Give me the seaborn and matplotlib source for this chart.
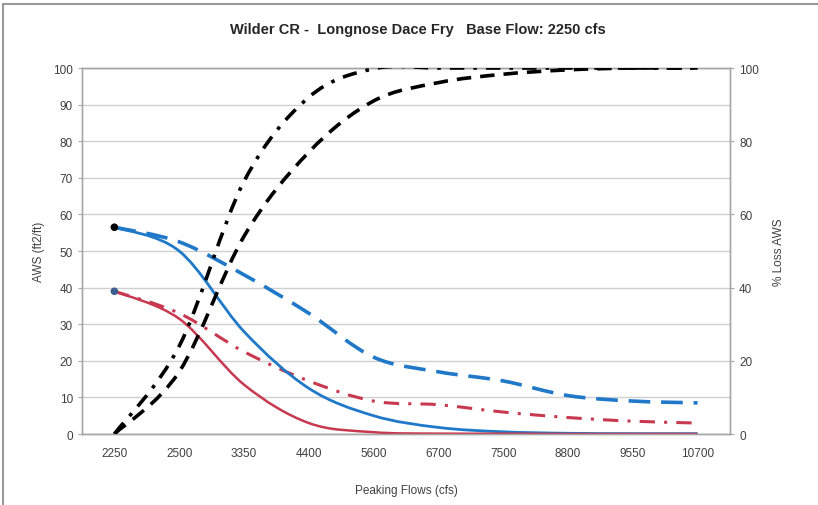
import numpy as np
import pandas as pd
import matplotlib
matplotlib.use("Agg")
import matplotlib.pyplot as plt
from matplotlib.path import Path
from matplotlib.patches import PathPatch, Rectangle
import seaborn as sns

# valeurs
flows = ["2250", "2500", "3350", "4400", "5600", "6700", "7500", "8800", "9550", "10700"]
aws_blue_solid = [56.5, 50.0, 28.0, 12.5, 5.0, 1.8, 0.6, 0.2, 0.1, 0.1]
aws_blue_dash = [56.5, 52.5, 43.5, 33.0, 21.0, 17.0, 14.5, 10.5, 9.0, 8.5]
aws_red_solid = [39.0, 31.5, 13.5, 3.0, 0.5, 0.1, 0.1, 0.0, 0.0, 0.0]
aws_red_dashdot = [39.0, 33.0, 22.5, 14.5, 9.0, 8.0, 6.0, 4.5, 3.5, 3.0]
loss_dashdot = [0.0, 24.0, 69.0, 92.0, 99.8, 100.0, 100.0, 100.0, 100.0, 100.0]
loss_dash = [0.0, 17.0, 54.0, 77.0, 91.0, 96.0, 98.3, 99.5, 100.0, 100.0]

BLUE = "#1f78c8"
RED = "#c8394f"


def smooth_path(ys):
    # courbe lissee facon Excel (Bezier passant par les points)
    x = np.arange(len(ys), dtype=float)
    y = np.asarray(ys, dtype=float)
    n = len(y)
    verts = [(x[0], y[0])]
    codes = [Path.MOVETO]
    for i in range(n - 1):
        i0 = max(i - 1, 0)
        i3 = min(i + 2, n - 1)
        c1 = (x[i] + (x[i + 1] - x[i0]) / 6, y[i] + (y[i + 1] - y[i0]) / 6)
        c2 = (x[i + 1] - (x[i3] - x[i]) / 6, y[i + 1] - (y[i3] - y[i]) / 6)
        verts += [c1, c2, (x[i + 1], y[i + 1])]
        codes += [Path.CURVE4] * 3
    return Path(verts, codes)


def add_curve(ax, ys, color, lw, ls):
    patch = PathPatch(smooth_path(ys), fill=False, edgecolor=color, linewidth=lw,
                      linestyle=ls, capstyle="butt", joinstyle="round", zorder=3)
    ax.add_patch(patch)


sns.set_style("whitegrid")
plt.rcParams["font.family"] = ["Liberation Sans Narrow", "Liberation Sans", "DejaVu Sans"]

fig = plt.figure(figsize=(8.18, 5.06), dpi=100)
fig.patches.append(Rectangle((0.004, -0.02), 1.02, 1.01, transform=fig.transFigure,
                             fill=False, edgecolor="#9a9a9a", linewidth=1.5))
ax = fig.add_axes([0.1002, 0.1403, 0.7922, 0.7233])
ax2 = ax.twinx()

add_curve(ax, aws_blue_dash, BLUE, 2.6, (0, (6, 3)))
add_curve(ax, aws_red_dashdot, RED, 2.2, (0, (5, 3, 1, 3)))
add_curve(ax, aws_blue_solid, BLUE, 2.0, "-")
add_curve(ax, aws_red_solid, RED, 1.8, "-")
add_curve(ax2, loss_dashdot, "black", 2.6, (0, (4, 2.5, 1, 2.5)))
add_curve(ax2, loss_dash, "black", 2.6, (0, (4, 2.5)))

start = pd.DataFrame({"x": [0, 0], "y": [aws_blue_solid[0], aws_red_solid[0]]})
sns.scatterplot(data=start, x="x", y="y", ax=ax, color=["black", "#3b5f8f"],
                s=30, edgecolor="none", zorder=5, legend=False)

ax.set_xlim(-0.5, len(flows) - 0.5)
ax.set_ylim(0, 100)
ax2.set_ylim(0, 100)
ax.set_xticks(range(len(flows)))
ax.set_xticklabels(flows)
ax.set_yticks(range(0, 101, 10))
ax2.set_yticks(range(0, 101, 20))

ax.grid(axis="x", visible=False)
ax.grid(axis="y", color="#d0d0d0", linewidth=1.0)
ax2.grid(False)
for a in (ax, ax2):
    for s in a.spines.values():
        s.set_color("#a6a6a6")
        s.set_linewidth(1.0)
    a.tick_params(axis="both", labelsize=8.5, colors="#404040", length=3, width=0.8)
ax.tick_params(axis="x", length=0, pad=9)
ax.tick_params(axis="y", color="#a6a6a6")
ax2.tick_params(axis="y", color="#a6a6a6")

ax.set_xlabel("Peaking Flows (cfs)", fontsize=8.5, color="#404040", labelpad=18)
ax.set_ylabel("AWS (ft2/ft)", fontsize=8.5, color="#404040", labelpad=6)
ax2.set_ylabel("% Loss AWS", fontsize=8.5, color="#404040", rotation=90, labelpad=10)
fig.text(0.511, 0.94, "Wilder CR -  Longnose Dace Fry   Base Flow: 2250 cfs",
         ha="center", va="center", fontsize=10.5, fontweight="bold")

fig.savefig("out.png", dpi=100)
